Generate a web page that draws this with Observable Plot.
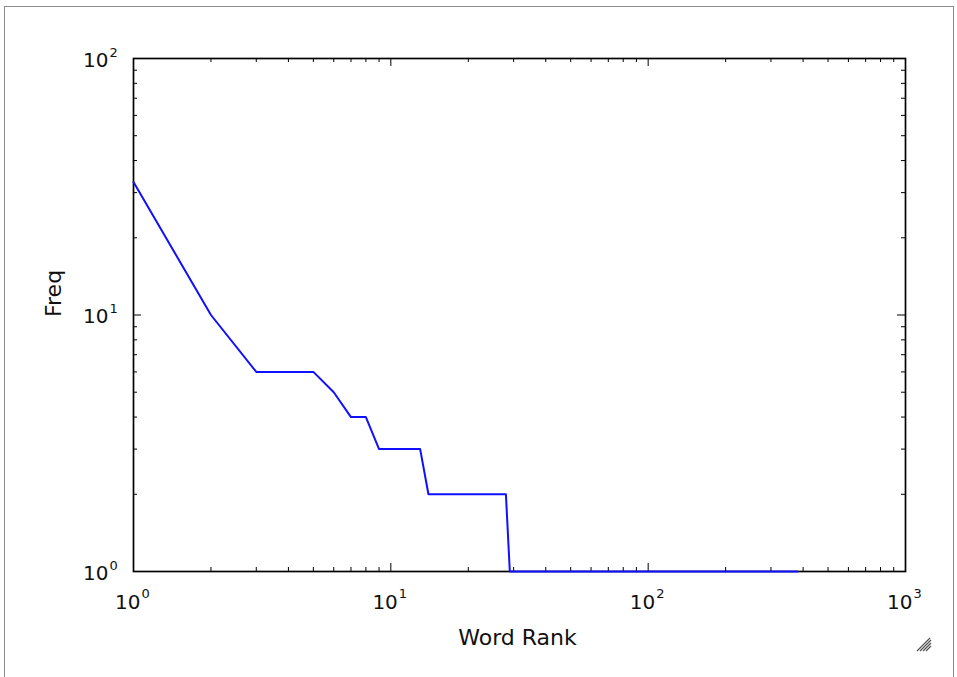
<!DOCTYPE html>
<html>
<head>
<meta charset="utf-8">
<script src="https://cdn.jsdelivr.net/npm/d3@7"></script>
<script src="https://cdn.jsdelivr.net/npm/@observablehq/plot@0.6"></script>
<style>
  html, body { margin: 0; padding: 0; background: #fff; }
  #wrap { position: relative; width: 957px; height: 677px; overflow: hidden; }
  #border { position: absolute; left: 4px; top: 6px; width: 950px; height: 680px; border: 1.5px solid #8a8a8a; box-sizing: border-box; pointer-events: none; }
  #grip { position: absolute; left: 914px; top: 634px; }
</style>
</head>
<body>
<div id="wrap">
  <div id="chart"></div>
  <div id="border"></div>
  <svg id="grip" width="20" height="20" viewBox="0 0 20 20">
    <g stroke="#555" stroke-width="1.2">
      <line x1="3" y1="17" x2="16" y2="4"/>
      <line x1="6" y1="17" x2="17" y2="6"/>
      <line x1="9" y1="17" x2="17" y2="9"/>
      <line x1="12" y1="17" x2="17" y2="12"/>
    </g>
  </svg>
</div>
<script>
// Word rank vs frequency (breakpoints of the step-like Zipf curve)
const ranks = [1, 2, 3, 5, 6, 7, 8, 9, 13, 14, 28, 29, 380];
const freqs = [33, 10, 6, 6, 5, 4, 4, 3, 3, 2, 2, 1, 1];

const xMajor = [1, 10, 100, 1000];
const xMinor = [2,3,4,5,6,7,8,9,20,30,40,50,60,70,80,90,200,300,400,500,600,700,800,900];
const yMajor = [1, 10, 100];
const yMinor = [2,3,4,5,6,7,8,9,20,30,40,50,60,70,80,90];
const xExp = ["0", "1", "2", "3"];
const yExp = ["0", "1", "2"];
const xLabel = "Word Rank";
const yLabel = "Freq";

const data = ranks.map((r, i) => ({rank: r, freq: freqs[i]}));

const W = 957, H = 677;
const mL = 133, mR = 52, mT = 58, mB = 106;
const frameW = W - mL - mR, frameH = H - mT - mB;
const font = "DejaVu Sans";

const chart = Plot.plot({
  width: W,
  height: H,
  marginLeft: mL,
  marginRight: mR,
  marginTop: mT,
  marginBottom: mB,
  style: {fontFamily: font, background: "white"},
  x: {type: "log", domain: [1, 1000], axis: null},
  y: {type: "log", domain: [1, 100], axis: null},
  marks: [
    // inward ticks on all four sides
    Plot.tickX(xMajor, {x: d => d, insetTop: frameH - 8, stroke: "black", strokeWidth: 1}),
    Plot.tickX(xMajor, {x: d => d, insetBottom: frameH - 8, stroke: "black", strokeWidth: 1}),
    Plot.tickX(xMinor, {x: d => d, insetTop: frameH - 4, stroke: "black", strokeWidth: 1}),
    Plot.tickX(xMinor, {x: d => d, insetBottom: frameH - 4, stroke: "black", strokeWidth: 1}),
    Plot.tickY(yMajor, {y: d => d, insetRight: frameW - 8, stroke: "black", strokeWidth: 1}),
    Plot.tickY(yMajor, {y: d => d, insetLeft: frameW - 8, stroke: "black", strokeWidth: 1}),
    Plot.tickY(yMinor, {y: d => d, insetRight: frameW - 4, stroke: "black", strokeWidth: 1}),
    Plot.tickY(yMinor, {y: d => d, insetLeft: frameW - 4, stroke: "black", strokeWidth: 1}),
    Plot.frame({stroke: "black", strokeWidth: 1.7}),
    Plot.line(data, {x: "rank", y: "freq", stroke: "#1010ff", strokeWidth: 2}),
    // x tick labels: 10^k
    Plot.text(xMajor, {x: d => d, frameAnchor: "bottom", text: d => "10", textAnchor: "end", dx: 7, dy: 31, lineAnchor: "middle", fontSize: 20, fill: "#111"}),
    Plot.text(xMajor, {x: d => d, frameAnchor: "bottom", text: (d, i) => xExp[i], textAnchor: "start", dx: 8, dy: 22, lineAnchor: "middle", fontSize: 13, fill: "#111"}),
    // y tick labels
    Plot.text(yMajor, {y: d => d, frameAnchor: "left", text: d => "10", textAnchor: "end", dx: -25, dy: 2, lineAnchor: "middle", fontSize: 20, fill: "#111"}),
    Plot.text(yMajor, {y: d => d, frameAnchor: "left", text: (d, i) => yExp[i], textAnchor: "start", dx: -24, dy: -6, lineAnchor: "middle", fontSize: 13, fill: "#111"}),
    // axis labels
    Plot.text([xLabel], {frameAnchor: "bottom", text: d => d, dx: -2, dy: 66, lineAnchor: "middle", fontSize: 22, fill: "#111"}),
    Plot.text([yLabel], {frameAnchor: "left", text: d => d, dx: -80, dy: 2, rotate: -90, lineAnchor: "middle", fontSize: 22, fill: "#111"})
  ]
});
document.getElementById("chart").appendChild(chart);
</script>
</body>
</html>
